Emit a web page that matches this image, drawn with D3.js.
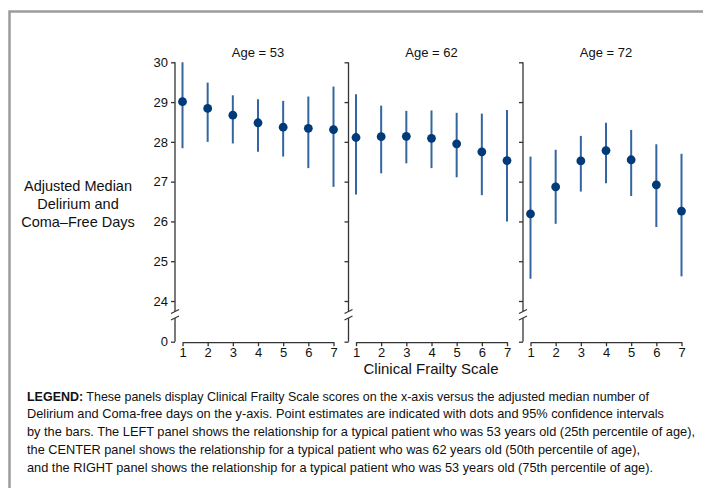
<!DOCTYPE html>
<html>
<head>
<meta charset="utf-8">
<script src="https://cdn.jsdelivr.net/npm/d3@7"></script>
<style>
  body { margin: 0; background: #fff; }
  svg { display: block; }
  text { font-family: "Liberation Sans", Arial, Helvetica, sans-serif; fill: #111; }
</style>
</head>
<body>
<svg id="chart" width="703" height="488"></svg>
<script>
// Clinical Frailty Scale scores (x-axis)
const frailty = [1, 2, 3, 4, 5, 6, 7];

// Panel titles (age of a typical patient)
const ages = [53, 62, 72];

// Adjusted median delirium/coma-free days with 95% CI, age 53
const est53 = [29.01, 28.84, 28.67, 28.48, 28.37, 28.34, 28.31];
const lo53  = [27.84, 28.00, 27.96, 27.75, 27.63, 27.34, 26.87];
const hi53  = [30.00, 29.49, 29.17, 29.07, 29.03, 29.14, 29.39];

// Age 62
const est62 = [28.11, 28.13, 28.14, 28.09, 27.95, 27.75, 27.53];
const lo62  = [26.68, 27.21, 27.46, 27.34, 27.11, 26.66, 26.00];
const hi62  = [29.20, 28.91, 28.78, 28.79, 28.73, 28.71, 28.80];

// Age 72
const est72 = [26.19, 26.87, 27.52, 27.78, 27.55, 26.92, 26.26];
const lo72  = [24.56, 25.94, 26.75, 26.96, 26.64, 25.86, 24.62];
const hi72  = [27.63, 27.80, 28.15, 28.48, 28.30, 27.94, 27.70];

// Y-axis tick values: upper (zoomed) range and the zero below the break
const yTicks = [24, 25, 26, 27, 28, 29, 30];
const zeroTick = [0];

const yLabelLines = ["Adjusted Median", "Delirium and", "Coma\u2013Free Days"];
const xLabel = "Clinical Frailty Scale";

const legendLines = [
  [{ t: "LEGEND:", b: true }, { t: " These panels display Clinical Frailty Scale scores on the x-axis versus the adjusted median number of" }],
  [{ t: "Delirium and Coma-free days on the y-axis. Point estimates are indicated with dots and 95% confidence intervals" }],
  [{ t: "by the bars. The LEFT panel shows the relationship for a typical patient who was 53 years old (25th percentile of age)," }],
  [{ t: "the CENTER panel shows the relationship for a typical patient who was 62 years old (50th percentile of age)," }],
  [{ t: "and the RIGHT panel shows the relationship for a typical patient who was 53 years old (75th percentile of age)." }]
];
const legendWidths = [622, 637, 668, 613, 626];

const panels = [
  { age: ages[0], est: est53, lo: lo53, hi: hi53 },
  { age: ages[1], est: est62, lo: lo62, hi: hi62 },
  { age: ages[2], est: est72, lo: lo72, hi: hi72 }
];

const svg = d3.select("#chart");
const axisColor = "#333";
const dotColor = "#003a78";
const barColor = "#3366a0";

// Outer frame (top and left edges)
svg.append("path")
  .attr("d", "M703,11.5H9.5V488")
  .attr("fill", "none")
  .attr("stroke", "#9c9c9c")
  .attr("stroke-width", 2.5);

// Shared vertical scales
const y = d3.scaleLinear().domain([24, 30]).range([301, 62.3]);
const yZero = d3.scaleLinear().domain([0, 1]).range([341.7, 301.9]);
const breakTop = y(24) + 10.5;
const breakBot = y(24) + 17;
const xAxisY = 342.2;

const axisX = [175, 348.5, 523];

function styleAxis(g, size) {
  g.attr("font-family", null).attr("font-size", null);
  g.selectAll("line,path").attr("stroke", axisColor).attr("stroke-width", 1.3);
  g.selectAll("text").style("font-size", size + "px").attr("fill", "#111");
}

panels.forEach((p, i) => {
  const ax = axisX[i];
  const x = d3.scaleLinear().domain([1, 7]).range([ax + 7.5, ax + 158.5]);
  const g = svg.append("g");

  // upper y-axis ticks
  const gy = g.append("g")
    .attr("transform", `translate(${ax},0)`)
    .call(d3.axisLeft(y).tickValues(yTicks).tickSize(4).tickPadding(3)
      .tickFormat(i === 0 ? d3.format("d") : () => ""));
  gy.select(".domain").remove();
  styleAxis(gy, 13);

  // zero tick below the break
  const gz = g.append("g")
    .attr("transform", `translate(${ax},0)`)
    .call(d3.axisLeft(yZero).tickValues(zeroTick).tickSize(4).tickPadding(3)
      .tickFormat(i === 0 ? d3.format("d") : () => ""));
  gz.select(".domain").remove();
  styleAxis(gz, 13);

  // y-axis line, broken between 24 and 0
  g.append("line").attr("x1", ax).attr("x2", ax)
    .attr("y1", y(30)).attr("y2", breakTop)
    .attr("stroke", axisColor).attr("stroke-width", 1.3);
  g.append("line").attr("x1", ax).attr("x2", ax)
    .attr("y1", breakBot).attr("y2", yZero(0))
    .attr("stroke", axisColor).attr("stroke-width", 1.3);
  // break marks
  [breakTop, breakBot].forEach(by => {
    g.append("line")
      .attr("x1", ax - 4).attr("y1", by + 2)
      .attr("x2", ax + 4).attr("y2", by - 2)
      .attr("stroke", axisColor).attr("stroke-width", 1.2);
  });

  // x-axis
  const gx = g.append("g")
    .attr("transform", `translate(0,${xAxisY})`)
    .call(d3.axisBottom(x).tickValues(frailty).tickSize(4).tickSizeOuter(0).tickPadding(2)
      .tickFormat(d3.format("d")));
  styleAxis(gx, 13);

  // panel title
  g.append("text")
    .attr("x", (x(1) + x(7)) / 2)
    .attr("y", 57.3)
    .attr("text-anchor", "middle")
    .style("font-size", "13px")
    .text(`Age = ${p.age}`);

  // 95% confidence interval bars
  g.selectAll(".ci")
    .data(frailty)
    .join("line")
    .attr("class", "ci")
    .attr("x1", d => x(d)).attr("x2", d => x(d))
    .attr("y1", (d, k) => y(p.hi[k]))
    .attr("y2", (d, k) => y(p.lo[k]))
    .attr("stroke", barColor)
    .attr("stroke-width", 2);

  // point estimates
  g.selectAll(".pt")
    .data(frailty)
    .join("circle")
    .attr("class", "pt")
    .attr("cx", d => x(d))
    .attr("cy", (d, k) => y(p.est[k]))
    .attr("r", 4.4)
    .attr("fill", dotColor);
});

// y-axis title
const yl = svg.append("text")
  .attr("text-anchor", "middle")
  .style("font-size", "14.5px");
yLabelLines.forEach((line, k) => {
  yl.append("tspan").attr("x", 78).attr("y", 191 + k * 18).text(line);
});

// x-axis title
svg.append("text")
  .attr("x", 431)
  .attr("y", 373.5)
  .attr("text-anchor", "middle")
  .style("font-size", "15px")
  .text(xLabel);

// legend paragraph
legendLines.forEach((parts, k) => {
  const t = svg.append("text")
    .attr("x", 27)
    .attr("y", 400.5 + k * 17.8)
    .style("font-size", "12.6px")
    .attr("textLength", legendWidths[k])
    .attr("lengthAdjust", "spacingAndGlyphs");
  parts.forEach(part => {
    t.append("tspan")
      .style("font-weight", part.b ? "bold" : "normal")
      .text(part.t);
  });
});
</script>
</body>
</html>
